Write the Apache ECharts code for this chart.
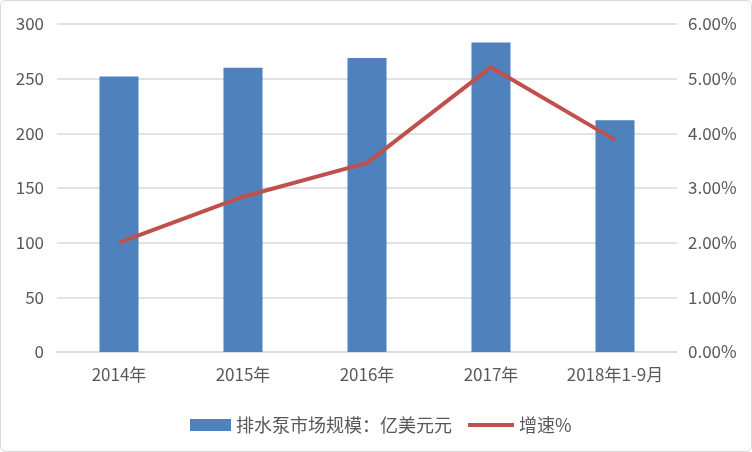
<!DOCTYPE html>
<html><head><meta charset="utf-8">
<script src="https://cdn.jsdelivr.net/npm/echarts@6/dist/echarts.min.js"></script>
<style>html,body{margin:0;padding:0;background:#fff;}#c{width:750px;height:450px;border:1px solid #d9d9d9;border-radius:6px;}</style>
</head><body><div id="c"></div>
<script>
const categories = ['2014年','2015年','2016年','2017年','2018年1-9月'];
const marketSize = [252, 260, 269, 283, 212];
const growth = [2.00, 2.84, 3.46, 5.21, 3.88];
const barName = '排水泵市场规模：亿美元元';
const lineName = '增速%';
const font = "'Noto Sans CJK SC',sans-serif";
const chart = echarts.init(document.getElementById('c'));
chart.setOption({
  animation:false,
  textStyle:{fontFamily:font},
  grid:{left:56,right:74,top:23,bottom:99},
  legend:[
    {left:184,top:410,itemWidth:41,itemHeight:12,
     textStyle:{fontSize:18,color:'#595959',fontFamily:font},
     data:[{name:barName,icon:'rect'}]},
    {left:462,top:410,itemWidth:46,itemHeight:4,
     textStyle:{fontSize:18,color:'#595959',fontFamily:font},
     data:[{name:lineName,icon:'rect'}]}
  ],
  xAxis:{type:'category',data:categories,
    axisLine:{lineStyle:{color:'#d9d9d9',width:1.5}},axisTick:{show:false},
    axisLabel:{fontSize:17,color:'#595959',margin:14,interval:0}},
  yAxis:[
    {type:'value',min:0,max:300,interval:50,
     axisLine:{show:false},axisTick:{show:false},
     splitLine:{lineStyle:{color:'#d9d9d9',width:1.5}},
     axisLabel:{fontSize:17,color:'#595959',margin:13}},
    {type:'value',min:0,max:6,interval:1,
     axisLine:{show:false},axisTick:{show:false},splitLine:{show:false},
     axisLabel:{fontSize:17,color:'#595959',margin:11,formatter:v=>v.toFixed(2)+'%'}}
  ],
  series:[
    {name:barName,type:'bar',data:marketSize,barWidth:'31.5%',itemStyle:{color:'#4F81BD'}},
    {name:lineName,type:'line',yAxisIndex:1,data:growth,symbol:'none',
     lineStyle:{color:'#C0504D',width:4},itemStyle:{color:'#C0504D'}}
  ]
});
</script></body></html>
